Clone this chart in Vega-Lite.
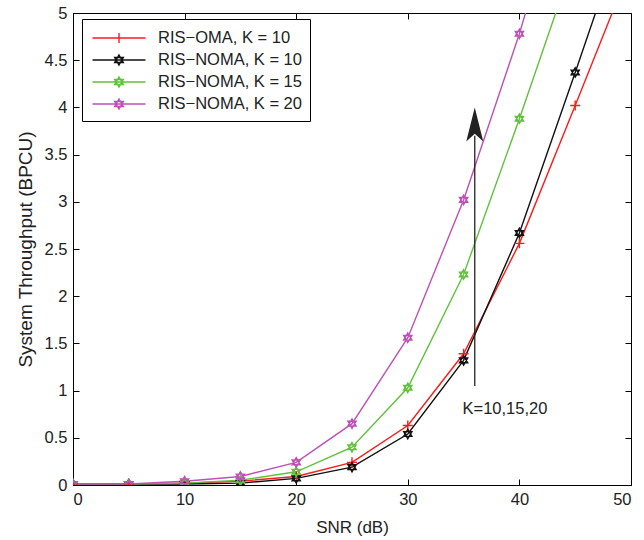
{
  "$schema": "https://vega.github.io/schema/vega-lite/v6.json",
  "width": 558,
  "height": 472,
  "autosize": {"type": "none"},
  "padding": {"left": 73, "top": 13, "right": 13, "bottom": 55},
  "background": "white",
  "config": {
    "font": "Liberation Sans",
    "view": {"stroke": "black", "strokeWidth": 1},
    "axis": {"labelFont": "Liberation Sans", "titleFont": "Liberation Sans", "labelFontSize": 16.5, "titleFontSize": 17, "titleFontWeight": "normal", "labelColor": "#222", "titleColor": "#222", "domainColor": "#000", "tickColor": "#000", "grid": false}
  },
  "datasets": {
    "curves": [
      {"snr": 0, "val": 0.01, "series": "RIS−OMA, K = 10"},
      {"snr": 5, "val": 0.01, "series": "RIS−OMA, K = 10"},
      {"snr": 10, "val": 0.02, "series": "RIS−OMA, K = 10"},
      {"snr": 15, "val": 0.04, "series": "RIS−OMA, K = 10"},
      {"snr": 20, "val": 0.09, "series": "RIS−OMA, K = 10"},
      {"snr": 25, "val": 0.24, "series": "RIS−OMA, K = 10"},
      {"snr": 30, "val": 0.63, "series": "RIS−OMA, K = 10"},
      {"snr": 35, "val": 1.39, "series": "RIS−OMA, K = 10"},
      {"snr": 40, "val": 2.56, "series": "RIS−OMA, K = 10"},
      {"snr": 45, "val": 4.02, "series": "RIS−OMA, K = 10"},
      {"snr": 50, "val": 5.5, "series": "RIS−OMA, K = 10"},
      {"snr": 0, "val": 0.01, "series": "RIS−NOMA, K = 10"},
      {"snr": 5, "val": 0.01, "series": "RIS−NOMA, K = 10"},
      {"snr": 10, "val": 0.01, "series": "RIS−NOMA, K = 10"},
      {"snr": 15, "val": 0.02, "series": "RIS−NOMA, K = 10"},
      {"snr": 20, "val": 0.07, "series": "RIS−NOMA, K = 10"},
      {"snr": 25, "val": 0.19, "series": "RIS−NOMA, K = 10"},
      {"snr": 30, "val": 0.54, "series": "RIS−NOMA, K = 10"},
      {"snr": 35, "val": 1.32, "series": "RIS−NOMA, K = 10"},
      {"snr": 40, "val": 2.67, "series": "RIS−NOMA, K = 10"},
      {"snr": 45, "val": 4.37, "series": "RIS−NOMA, K = 10"},
      {"snr": 50, "val": 6.1, "series": "RIS−NOMA, K = 10"},
      {"snr": 0, "val": 0.01, "series": "RIS−NOMA, K = 15"},
      {"snr": 5, "val": 0.01, "series": "RIS−NOMA, K = 15"},
      {"snr": 10, "val": 0.02, "series": "RIS−NOMA, K = 15"},
      {"snr": 15, "val": 0.05, "series": "RIS−NOMA, K = 15"},
      {"snr": 20, "val": 0.14, "series": "RIS−NOMA, K = 15"},
      {"snr": 25, "val": 0.4, "series": "RIS−NOMA, K = 15"},
      {"snr": 30, "val": 1.03, "series": "RIS−NOMA, K = 15"},
      {"snr": 35, "val": 2.23, "series": "RIS−NOMA, K = 15"},
      {"snr": 40, "val": 3.88, "series": "RIS−NOMA, K = 15"},
      {"snr": 45, "val": 5.6, "series": "RIS−NOMA, K = 15"},
      {"snr": 50, "val": 7.5, "series": "RIS−NOMA, K = 15"},
      {"snr": 0, "val": 0.01, "series": "RIS−NOMA, K = 20"},
      {"snr": 5, "val": 0.01, "series": "RIS−NOMA, K = 20"},
      {"snr": 10, "val": 0.04, "series": "RIS−NOMA, K = 20"},
      {"snr": 15, "val": 0.09, "series": "RIS−NOMA, K = 20"},
      {"snr": 20, "val": 0.24, "series": "RIS−NOMA, K = 20"},
      {"snr": 25, "val": 0.65, "series": "RIS−NOMA, K = 20"},
      {"snr": 30, "val": 1.56, "series": "RIS−NOMA, K = 20"},
      {"snr": 35, "val": 3.02, "series": "RIS−NOMA, K = 20"},
      {"snr": 40, "val": 4.78, "series": "RIS−NOMA, K = 20"},
      {"snr": 45, "val": 6.8, "series": "RIS−NOMA, K = 20"},
      {"snr": 50, "val": 8.9, "series": "RIS−NOMA, K = 20"}
    ],
    "arrow": [{"x": 36, "y0": 1.05, "y1": 3.7, "yh": 3.82}],
    "note": [{"x": 34.9, "y": 0.8, "label": "K=10,15,20"}]
  },
  "resolve": {"axis": {"x": "independent", "y": "independent"}},
  "layer": [
    {
      "data": {"name": "curves"},
      "mark": {"type": "line", "strokeWidth": 1.4, "clip": true},
      "encoding": {
        "x": {"field": "snr", "type": "quantitative", "scale": {"domain": [0, 50], "nice": false}, "axis": {"title": "SNR (dB)", "values": [0, 10, 20, 30, 40, 50], "tickSize": -6, "labelPadding": 12, "titlePadding": 12}},
        "y": {"field": "val", "type": "quantitative", "scale": {"domain": [0, 5], "nice": false}, "axis": {"title": "System Throughput (BPCU)", "titleFontSize": 19, "values": [0, 0.5, 1, 1.5, 2, 2.5, 3, 3.5, 4, 4.5, 5], "format": "~g", "tickSize": -6, "labelPadding": 12, "titlePadding": 9}},
        "color": {
          "field": "series", "type": "nominal",
          "scale": {"domain": ["RIS−OMA, K = 10", "RIS−NOMA, K = 10", "RIS−NOMA, K = 15", "RIS−NOMA, K = 20"], "range": ["#ff1a1a", "#111111", "#62c03c", "#bf50b8"]},
          "legend": {
            "title": null, "orient": "none", "legendX": 9, "legendY": 6,
            "strokeColor": "#000", "fillColor": "white", "padding": 8, "cornerRadius": 0,
            "symbolSize": 400, "symbolStrokeWidth": 1.4, "symbolOffset": 18, "labelOffset": 28,
            "labelFontSize": 16.5, "labelFont": "Liberation Sans", "labelColor": "#222", "rowPadding": 2, "labelLimit": 300,
            "encode": {"symbols": {"update": {
              "fill": {"value": "transparent"},
              "opacity": {"value": 1},
              "shape": {"signal": "datum.index === 0 ? 'M-2.65,0H2.65M0,-0.5V0.5' : 'M-2.65,0H2.65M0,-0.5L0.433,0.25L-0.433,0.25ZM0,0.5L0.433,-0.25L-0.433,-0.25Z'"}
            }}}
          }
        }
      }
    },
    {
      "data": {"name": "curves"},
      "transform": [{"filter": "datum.series === 'RIS−OMA, K = 10'"}],
      "mark": {"type": "point", "filled": false, "opacity": 1, "size": 100, "strokeWidth": 1.4, "clip": true, "shape": "M-1,0H1M0,-1V1"},
      "encoding": {
        "x": {"field": "snr", "type": "quantitative", "axis": null},
        "y": {"field": "val", "type": "quantitative", "axis": null},
        "color": {"field": "series", "type": "nominal"}
      }
    },
    {
      "data": {"name": "curves"},
      "transform": [{"filter": "datum.series !== 'RIS−OMA, K = 10'"}],
      "mark": {"type": "point", "filled": false, "opacity": 1, "size": 90, "strokeWidth": 1.4, "clip": true, "shape": "M0,-1L0.866,0.5L-0.866,0.5ZM0,1L0.866,-0.5L-0.866,-0.5Z"},
      "encoding": {
        "x": {"field": "snr", "type": "quantitative", "axis": null},
        "y": {"field": "val", "type": "quantitative", "axis": null},
        "color": {"field": "series", "type": "nominal"}
      }
    },
    {
      "data": {"name": "curves"},
      "mark": {"type": "point", "opacity": 0},
      "encoding": {
        "x": {"field": "snr", "type": "quantitative", "axis": {"orient": "top", "title": null, "labels": false, "domain": false, "values": [0, 10, 20, 30, 40, 50], "tickSize": -6}},
        "y": {"field": "val", "type": "quantitative", "axis": {"orient": "right", "title": null, "labels": false, "domain": false, "values": [0, 0.5, 1, 1.5, 2, 2.5, 3, 3.5, 4, 4.5, 5], "tickSize": -6}}
      }
    },
    {
      "data": {"name": "arrow"},
      "mark": {"type": "rule", "color": "#222", "strokeWidth": 1.3},
      "encoding": {
        "x": {"field": "x", "type": "quantitative", "axis": null},
        "y": {"field": "y0", "type": "quantitative", "axis": null},
        "y2": {"field": "y1"}
      }
    },
    {
      "data": {"name": "arrow"},
      "mark": {"type": "point", "filled": true, "color": "#222", "opacity": 1, "size": 1156, "shape": "M0,-1L-0.5,1L0,0.55L0.5,1Z"},
      "encoding": {
        "x": {"field": "x", "type": "quantitative", "axis": null},
        "y": {"field": "yh", "type": "quantitative", "axis": null}
      }
    },
    {
      "data": {"name": "note"},
      "mark": {"type": "text", "align": "left", "baseline": "middle", "fontSize": 16.5, "font": "Liberation Sans", "color": "#222"},
      "encoding": {
        "x": {"field": "x", "type": "quantitative", "axis": null},
        "y": {"field": "y", "type": "quantitative", "axis": null},
        "text": {"field": "label"}
      }
    }
  ]
}
